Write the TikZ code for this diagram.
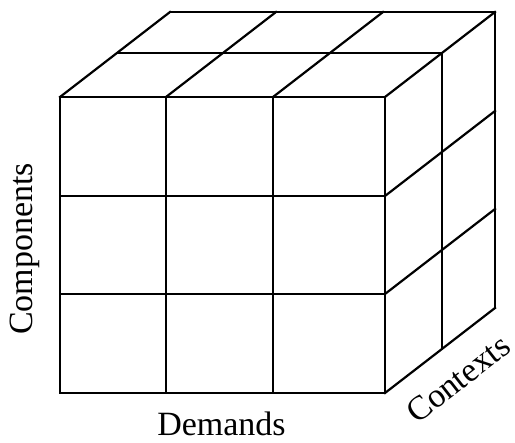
\documentclass[tikz,border=0pt]{standalone}
\usepackage{fontspec}
\setmainfont{Liberation Serif}
\begin{document}
\begin{tikzpicture}[x=1pt,y=-1pt,
  grid/.style={line width=2.2pt,line cap=rect,line join=miter},
  lab/.style={font=\fontsize{34}{40}\selectfont,inner sep=0pt}]
\useasboundingbox (0,0) rectangle (515,443);
% front face
\foreach \x in {60,166,273,385} \draw[grid] (\x,97) -- (\x,393);
\foreach \y in {97,196,294,393} \draw[grid] (60,\y) -- (385,\y);
% top face
\foreach \x in {60,166,273,385} \draw[grid] (\x,97) -- ++(110,-85);
\draw[grid] (117,53) -- (442,53);
\draw[grid] (170,12) -- (495,12);
% right face
\foreach \y in {196,294,393} \draw[grid] (385,\y) -- ++(110,-85);
\draw[grid] (442,53) -- (442,349);
\draw[grid] (495,12) -- (495,308);
% labels
\node[lab,rotate=90,anchor=base] (comp) at (32,249) {Components};
\node[lab,anchor=base] (dem) at (221.5,436) {Demands};
\node[lab,rotate=38,anchor=center] (ctx) at (458,379) {Contexts};
\end{tikzpicture}
\end{document}
